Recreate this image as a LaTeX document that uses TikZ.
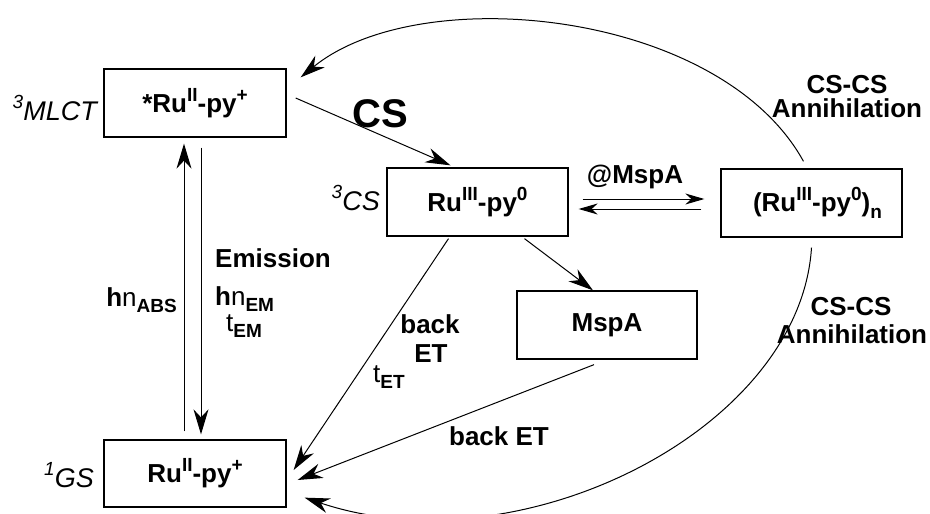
\documentclass[tikz,border=0pt]{standalone}
\usepackage{fontspec}
\setmainfont{Liberation Sans}
\usetikzlibrary{arrows.meta}

\newcommand{\upidx}[1]{\raisebox{0.42em}{\fontsize{19}{20}\selectfont #1}}
\newcommand{\dnidx}[1]{\raisebox{-0.25em}{\fontsize{19}{20}\selectfont #1}}

\tikzset{
	state/.style={draw,line width=1.3pt,minimum width=182pt,minimum height=68pt,inner sep=0pt,
		font=\fontsize{26}{30}\selectfont\bfseries},
	lbl/.style={inner sep=0pt,anchor=base,font=\fontsize{26}{30}\selectfont\bfseries},
	tag/.style={inner sep=0pt,anchor=base east,font=\fontsize{27}{30}\selectfont\itshape},
	conn/.style={line width=1pt,-{Stealth[length=25pt,width=15pt,inset=8pt]}},
	eqconn/.style={line width=1pt,-{Stealth[length=19pt,width=11pt,inset=6pt]}},
}

\begin{document}
\begin{tikzpicture}[x=1pt,y=-1pt]
\useasboundingbox (0,0) rectangle (930,514);

% states
\node[state] (mlct) at (195,103) {*Ru\upidx{II}-py\upidx{+}};
\node[state,minimum height=67pt] (gs) at (195,473.5) {Ru\upidx{II}-py\upidx{+}};
\node[state,minimum width=181pt] (cs) at (477.5,202) {Ru\upidx{III}-py\upidx{0}};
\node[state,minimum width=181pt] (agg) at (811.5,203) {\hspace{12pt}(Ru\upidx{III}-py\upidx{0})\dnidx{n}};
\node[state,minimum width=180pt] (mspa) at (607,325) {MspA};

\node[tag] (mlcttag) at (97,120) {\upidx{3}MLCT};
\node[tag] (cstag) at (380,210) {\upidx{3}CS};
\node[tag] (gstag) at (94,487) {\upidx{1}GS};

% absorption and emission
\draw[conn] ([xshift=-11pt,yshift=8pt]gs.north) -- ([xshift=-11pt,yshift=-6pt]mlct.south);
\draw[conn] ([xshift=6pt,yshift=-10pt]mlct.south) -- ([xshift=6pt,yshift=5pt]gs.north);
\node[lbl,anchor=base east] (abslbl) at (177,306) {h{\mdseries n}\dnidx{ABS}};
\node[lbl,anchor=base west] (emlbl) at (215,267) {Emission};
\node[lbl,anchor=base west] (hvem) at (215,305) {h{\mdseries n}\dnidx{EM}};
\node[lbl,anchor=base west] (tauem) at (226,331) {{\mdseries t}\dnidx{EM}};

% charge separation
\draw[conn] ([xshift=9pt,yshift=5pt]mlct.east) -- ([xshift=-27pt,yshift=2pt]cs.north);
\node[lbl,font=\fontsize{40}{44}\selectfont\bfseries] (cslbl) at (380,127) {CS};

% equilibrium with aggregate
\draw[eqconn] ([xshift=14pt,yshift=3pt]cs.east) -- ([xshift=-16pt,yshift=4pt]agg.west);
\draw[eqconn] ([xshift=-19pt,yshift=-6pt]agg.west) -- ([xshift=10pt,yshift=-7pt]cs.east);
\node[lbl] (atmspa) at (635,183) {@MspA};

\draw[conn] ([xshift=47pt,yshift=-2pt]cs.south) -- ([xshift=-14pt]mspa.north);

% back electron transfer
\draw[conn] ([xshift=-29pt,yshift=-2pt]cs.south) -- ([xshift=7pt,yshift=3.5pt]gs.east);
\node[lbl] (backa) at (430,333) {back};
\node[lbl] (backb) at (431,362) {ET};
\node[lbl,anchor=base west] (tauet) at (373,382) {{\mdseries t}\dnidx{ET}};

\draw[conn] ([xshift=-13pt,yshift=-5pt]mspa.south) -- ([xshift=11pt,yshift=-6.5pt]gs.east);
\node[lbl] (backet) at (499,445) {back ET};

% annihilation
\draw[conn] ([xshift=-8pt,yshift=7pt]agg.north) .. controls (720,10) and (420,-20) .. ([xshift=14pt,yshift=-9pt]mlct.north east);
\node[lbl] (annia) at (847,93) {CS-CS};
\node[lbl] (annib) at (847,117) {Annihilation};

\draw[conn] ([yshift=-10pt]agg.south) .. controls (800,430) and (520,570) .. ([xshift=18pt,yshift=10pt]gs.south east);
\node[lbl] (annic) at (851,315) {CS-CS};
\node[lbl] (annid) at (852,343) {Annihilation};
\end{tikzpicture}
\end{document}
